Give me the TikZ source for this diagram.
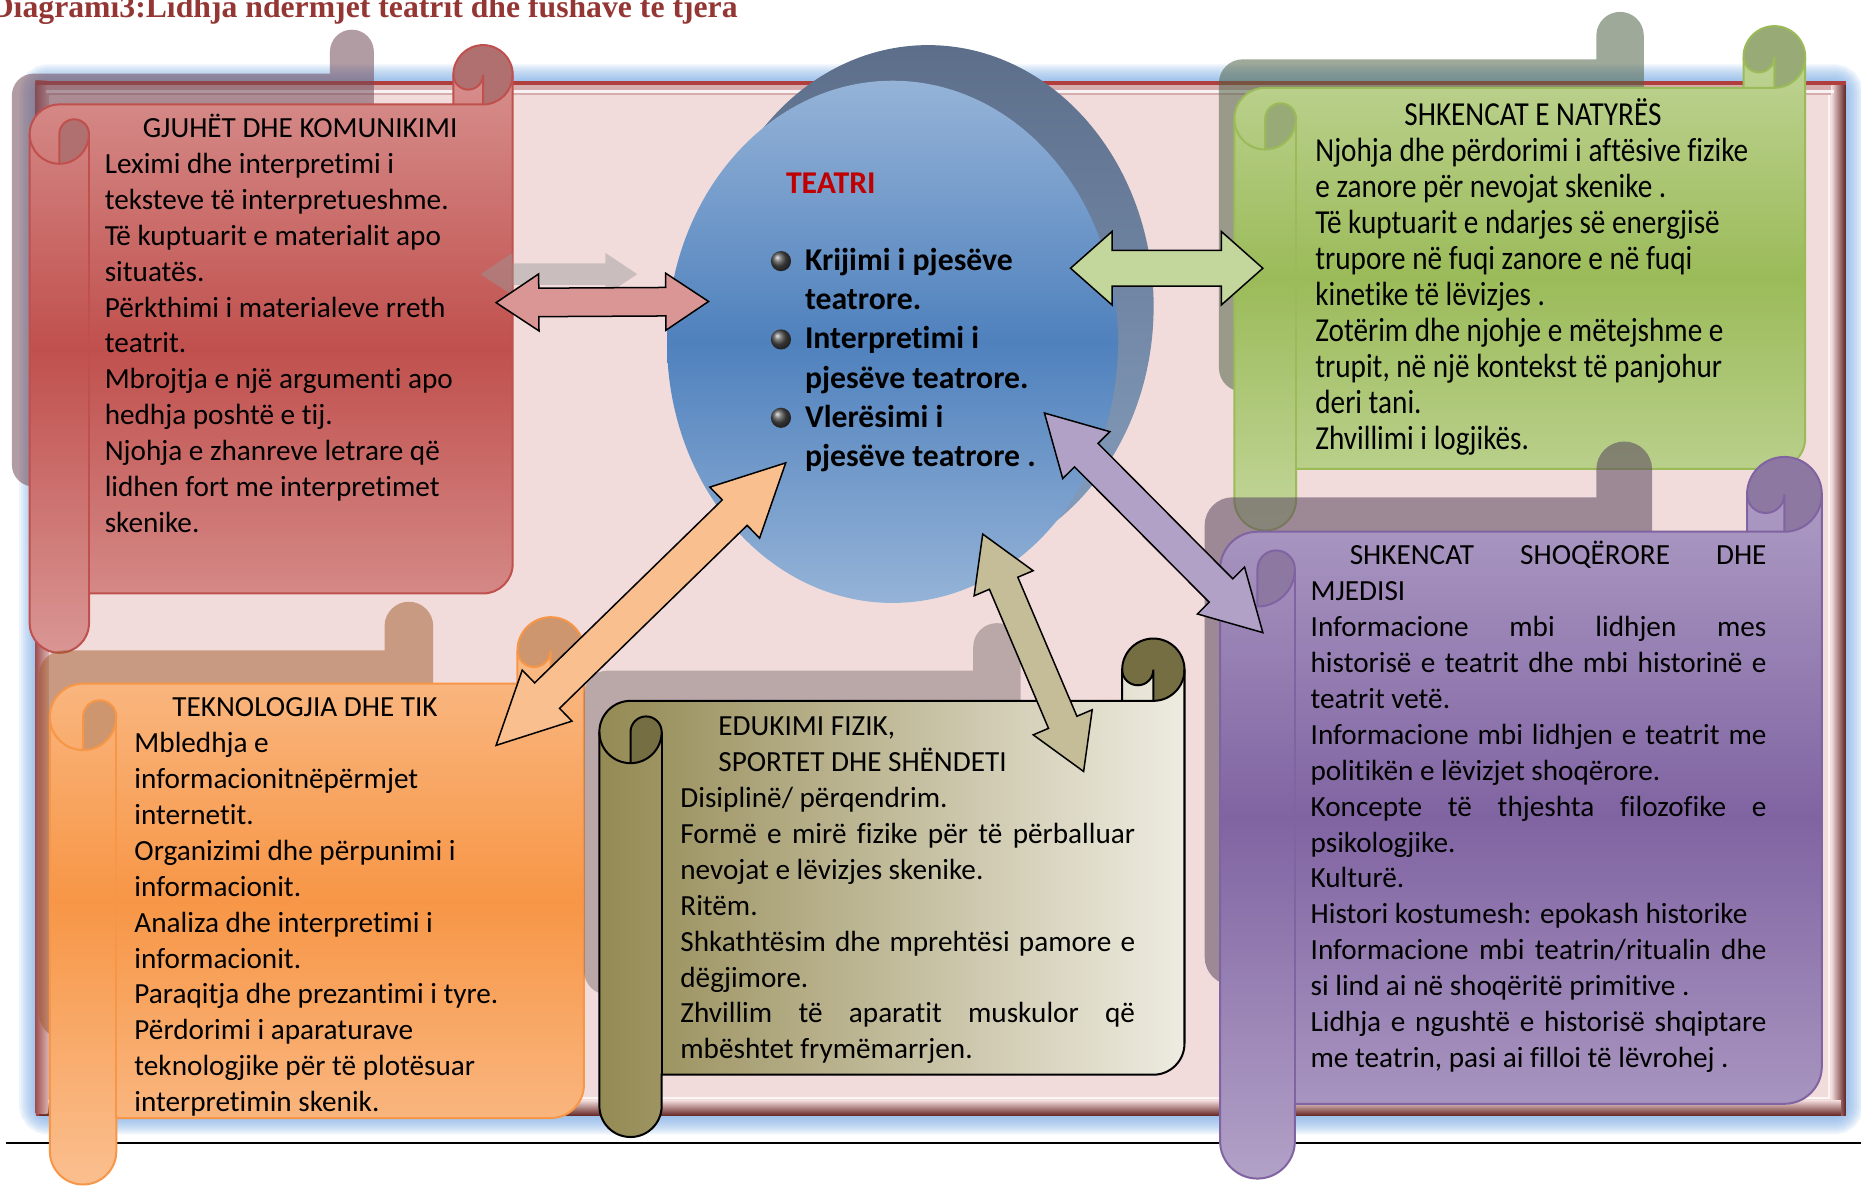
\documentclass[tikz,border=0pt]{standalone}
\usepackage{fontspec}
\usepackage{graphicx}
\setmainfont{Carlito}[Ligatures=NoCommon]
\newfontfamily\titlefont{Liberation Serif}
\usetikzlibrary{calc}
\definecolor{titlered}{RGB}{148,54,52}
\definecolor{framefill}{RGB}{242,220,219}
\definecolor{framered}{RGB}{175,62,60}
\definecolor{framedark}{RGB}{99,37,35}
\definecolor{framebevel}{RGB}{214,172,172}
\definecolor{glowblue}{RGB}{120,170,230}
\definecolor{redL}{RGB}{217,150,148}
\definecolor{redM}{RGB}{192,80,77}
\definecolor{redD}{RGB}{176,112,112}
\definecolor{redS}{RGB}{115,75,90}
\definecolor{grnL}{RGB}{195,214,155}
\definecolor{grnM}{RGB}{155,187,89}
\definecolor{grnD}{RGB}{152,170,118}
\definecolor{grnS}{RGB}{80,100,72}
\definecolor{purL}{RGB}{178,161,199}
\definecolor{purM}{RGB}{128,100,162}
\definecolor{purD}{RGB}{140,120,160}
\definecolor{purS}{RGB}{88,68,95}
\definecolor{orgL}{RGB}{250,191,143}
\definecolor{orgM}{RGB}{247,150,70}
\definecolor{orgD}{RGB}{205,150,110}
\definecolor{orgS}{RGB}{160,90,40}
\definecolor{oliL}{RGB}{238,236,225}
\definecolor{oliM}{RGB}{148,138,84}
\definecolor{oliD}{RGB}{118,110,67}
\definecolor{oliS}{RGB}{120,105,110}
\definecolor{ballL}{RGB}{149,179,215}
\definecolor{ballM}{RGB}{79,129,189}
\definecolor{backT}{RGB}{92,110,138}
\definecolor{backB}{RGB}{135,160,192}
\definecolor{arrRed}{RGB}{217,150,148}
\definecolor{arrGrn}{RGB}{195,214,155}
\definecolor{arrOrg}{RGB}{250,191,143}
\definecolor{arrPur}{RGB}{178,161,199}
\definecolor{arrOli}{RGB}{196,189,151}
\definecolor{teatri}{RGB}{192,0,0}

\newcommand\scrollcalc[5]{%
  \pgfmathsetmacro\scL{#1}\pgfmathsetmacro\scT{#2}%
  \pgfmathsetmacro\scR{#3}\pgfmathsetmacro\scB{#4}%
  \pgfmathsetmacro\scH{#5/2}\pgfmathsetmacro\scQ{#5/4}%
  \pgfmathsetmacro\scxA{#1+#5/2}\pgfmathsetmacro\scxB{#1+#5}%
  \pgfmathsetmacro\scxC{#3-#5}\pgfmathsetmacro\scxD{#3-#5/2}%
  \pgfmathsetmacro\scyA{#2+#5/2}\pgfmathsetmacro\scyB{#2+#5}%
  \pgfmathsetmacro\scyC{#2+1.5*#5}\pgfmathsetmacro\scyD{#2+2*#5}%
  \pgfmathsetmacro\scyF{#4-#5}\pgfmathsetmacro\scyG{#4-#5/2}%
  \pgfmathsetmacro\scyE{#4-1.5*#5}}

\newcommand\scrollshadow[6]{%
  \scrollcalc{#1}{#2}{#3}{#4}{#5}%
  \fill[#6] (\scR,\scyA) -- (\scR,\scyE) arc[start angle=0,end angle=90,radius=\scH]
    -- (\scxB,\scyF) -- (\scxB,\scyG) arc[start angle=0,end angle=180,radius=\scH]
    -- (\scL,\scyC) arc[start angle=180,end angle=270,radius=\scH]
    -- (\scxC,\scyB) -- (\scxC,\scyA) arc[start angle=180,end angle=360,radius=\scH] -- cycle;}

\newcommand\scrollbox[8]{%
  \scrollcalc{#1}{#2}{#3}{#4}{#5}%
  \path[#6] (\scR,\scyA) -- (\scR,\scyE) arc[start angle=0,end angle=90,radius=\scH]
    -- (\scxB,\scyF) -- (\scxB,\scyG) arc[start angle=0,end angle=180,radius=\scH]
    -- (\scL,\scyC) arc[start angle=180,end angle=270,radius=\scH]
    -- (\scxC,\scyB) -- (\scxC,\scyA) arc[start angle=180,end angle=360,radius=\scH] -- cycle;
  \fill[#7] (\scxA,\scyD) arc[start angle=90,end angle=0,radius=\scH]
    arc[start angle=0,end angle=-180,radius=\scQ] -- cycle;
  \fill[#7] (\scxD,\scyB) arc[start angle=90,end angle=-180,radius=\scH]
    arc[start angle=180,end angle=0,radius=\scQ] -- cycle;
  \draw[#8] (\scR,\scyA) -- (\scR,\scyE) arc[start angle=0,end angle=90,radius=\scH]
    -- (\scxB,\scyF) -- (\scxB,\scyG) arc[start angle=0,end angle=180,radius=\scH]
    -- (\scL,\scyC) arc[start angle=180,end angle=270,radius=\scH]
    -- (\scxC,\scyB) -- (\scxC,\scyA) arc[start angle=180,end angle=360,radius=\scH] -- cycle;
  \draw[#8] (\scxC,\scyB) -- (\scxD,\scyB) arc[start angle=90,end angle=0,radius=\scH];
  \draw[#8] (\scxD,\scyB) -- (\scxD,\scyA) arc[start angle=0,end angle=180,radius=\scQ];
  \draw[#8] (\scxA,\scyD) -- (\scxA,\scyC) arc[start angle=180,end angle=360,radius=\scQ]
    arc[start angle=0,end angle=180,radius=\scH];
  \draw[#8] (\scxB,\scyC) -- (\scxB,\scyF);}

% block double arrow: #1 style, #2 A, #3 B, #4 shaft half width, #5 head half width, #6 head length
\newcommand\blockarrow[6]{%
  \path ($(#2)!#6!(#3)$) coordinate (ba1) ($(#3)!#6!(#2)$) coordinate (ba2);
  \draw[#1] (#2) -- ($(ba1)!#5!90:(#3)$) -- ($(ba1)!#4!90:(#3)$)
    -- ($(ba2)!#4!-90:(#2)$) -- ($(ba2)!#5!-90:(#2)$) -- (#3)
    -- ($(ba2)!#5!90:(#2)$) -- ($(ba2)!#4!90:(#2)$)
    -- ($(ba1)!#4!-90:(#3)$) -- ($(ba1)!#5!-90:(#3)$) -- cycle;}

\newcommand\jline[1]{\makebox[\linewidth][s]{#1}}

\begin{document}
\begin{tikzpicture}[x=0.025cm,y=-0.025cm,
  txt/.style={inner sep=0pt,anchor=base west,font=\fontsize{17.5pt}{21.5pt}\selectfont},
  scrline/.style={line width=1.2pt},
  arrline/.style={draw=black,line width=0.9pt,line join=miter}]
\useasboundingbox (0,0) rectangle (1568,1000);
\fill[white] (0,0) rectangle (1568,1000);

% glow round the frame
\foreach \k in {1,...,9}
  \draw[glowblue,opacity=0.12,line width=\k*2.5pt,rounded corners=6pt] (32,70) rectangle (1554,940);

% frame
\fill[framered] (30,68) rectangle (1555,940);
\fill[framebevel] (33,72) rectangle (1551,936);
\shade[left color=framefill,right color=framedark] (1543,72) rectangle (1555,940);
\shade[top color=framefill,bottom color=framedark] (33,927) rectangle (1551,940);
\shade[left color=framered!70!gray,right color=framebevel] (30,68) rectangle (40,938);
\fill[framered] (30,68) rectangle (1555,72);
\fill[framefill] (41,80) rectangle (1543,927);
\draw[white,line width=1.4pt,opacity=0.85] (39,77) -- (1545,77);
\draw[white!70!framefill,line width=1pt] (1541,80) -- (1541,925) -- (41,925);

% page rule
\draw[black,line width=1.6pt] (5,963) -- (1568,963);

% central disk
\shade[top color=backT,bottom color=backB] (782,258) ellipse[x radius=190,y radius=220];
\shade[top color=ballL,bottom color=ballL,middle color=ballM] (752,288) ellipse[x radius=190,y radius=220];

% scrolls with their shadows
\scrollshadow{10}{25}{315}{410}{37}{redS,fill opacity=0.55}
\scrollbox{25}{38}{432}{550}{50}{top color=redL,bottom color=redL,middle color=redM}{redD}{redM,scrline}

\scrollshadow{1027}{10}{1385}{330}{40}{grnS,fill opacity=0.55}
\scrollbox{1040}{22}{1521}{447}{52}{top color=grnL,bottom color=grnL,middle color=grnM}{grnD}{grnM,scrline}

\scrollshadow{1015}{372}{1392}{830}{47}{purS,fill opacity=0.55}
\scrollbox{1028}{385}{1535}{993}{63}{top color=purL,bottom color=purL,middle color=purM}{purD}{purM,scrline}

\scrollshadow{33}{507}{365}{875}{41}{orgS,fill opacity=0.5}
\scrollbox{42}{520}{492}{998}{56}{top color=orgL,bottom color=orgL,middle color=orgM}{orgD}{orgM,scrline}

\scrollshadow{492}{525}{860}{838}{40}{oliS,fill opacity=0.45}
\scrollbox{505}{538}{998}{958}{52.5}{left color=oliM,right color=oliL}{oliD}{black,scrline}

% arrows
\coordinate (shA) at (405,231); \coordinate (shB) at (537,231);
\coordinate (rA) at (418,255);  \coordinate (rB) at (597,254);
\coordinate (gA) at (902,226);  \coordinate (gB) at (1064,226);
\coordinate (oA) at (418,628);  \coordinate (oB) at (662,390);
\coordinate (pA) at (880,348);  \coordinate (pB) at (1064,533);
\coordinate (vA) at (828,450);  \coordinate (vB) at (913,650);
\blockarrow{fill=black!40,fill opacity=0.45,draw=none}{shA}{shB}{0.225cm}{0.45cm}{0.675cm}
\blockarrow{arrline,fill=arrRed}{rA}{rB}{0.3cm}{0.6cm}{0.9cm}
\blockarrow{arrline,fill=arrGrn}{gA}{gB}{0.375cm}{0.775cm}{0.875cm}
\blockarrow{arrline,fill=arrOrg}{oA}{oB}{0.375cm}{0.75cm}{1.5cm}
\blockarrow{arrline,fill=arrPur}{pA}{pB}{0.35cm}{0.7cm}{1.25cm}
\blockarrow{arrline,fill=arrOli}{vA}{vB}{0.325cm}{0.675cm}{1.125cm}

% title
\node[inner sep=0pt,anchor=base west,text=titlered,font=\titlefont\bfseries\fontsize{19pt}{22pt}\selectfont] (title) at (-8,15) {Diagrami3:Lidhja ndërmjet teatrit dhe fushave të tjera};

% centre text
\node[inner sep=0pt,anchor=base west,text=teatri,font=\bfseries\fontsize{19pt}{23.5pt}\selectfont] (teatri) at (662,163) {TEATRI};
\node[inner sep=0pt,anchor=base west,font=\bfseries\fontsize{19pt}{23.47pt}\selectfont] (items) at (678,228)
  {\parbox[t]{6cm}{Krijimi i pjesëve\\teatrore.\\Interpretimi i\\pjesëve teatrore.\\Vlerësimi i\\pjesëve teatrore .}};
\foreach \yy in {220,286,352} \shade[ball color=black!70] (658,\yy) circle (8.5);

% scroll texts
\node[txt] (redtxt) at (88,116) {\parbox[t]{9cm}{\hspace*{0.8cm}GJUHËT DHE KOMUNIKIMI\\
Leximi dhe interpretimi i\\
teksteve të interpretueshme.\\
Të kuptuarit e materialit apo\\
situatës.\\
Përkthimi i materialeve rreth\\
teatrit.\\
Mbrojtja e një argumenti apo\\
hedhja poshtë e tij.\\
Njohja e zhanreve letrare që\\
lidhen fort me interpretimet\\
skenike.}};

\node[txt,font=\fontsize{17.5pt}{18.74pt}\selectfont] (grntxt) at (1108,106) {\scalebox{1}[1.15]{\parbox[t]{9.5cm}{\hspace*{1.875cm}SHKENCAT E NATYRËS\\
Njohja dhe përdorimi i aftësive fizike\\
e zanore për nevojat skenike .\\
Të kuptuarit e ndarjes së energjisë\\
trupore në fuqi zanore e në fuqi\\
kinetike të lëvizjes .\\
Zotërim dhe njohje e mëtejshme e\\
trupit, në një kontekst të panjohur\\
deri tani.\\
Zhvillimi i logjikës.}}};

\node[txt] (purtxt) at (1104,476) {\parbox[t]{9.6cm}{\hspace*{0.825cm}\makebox[8.775cm][s]{SHKENCAT SHOQËRORE DHE}\\
MJEDISI\\
\jline{Informacione mbi lidhjen mes}\\
\jline{historisë e teatrit dhe mbi historinë e}\\
teatrit vetë.\\
\jline{Informacione mbi lidhjen e teatrit me}\\
politikën e lëvizjet shoqërore.\\
\jline{Koncepte të thjeshta filozofike e}\\
psikologjike.\\
Kulturë.\\
Histori kostumesh: epokash historike\\
\jline{Informacione mbi teatrin/ritualin dhe}\\
si lind ai në shoqëritë primitive .\\
\jline{Lidhja e ngushtë e historisë shqiptare}\\
me teatrin, pasi ai filloi të lëvrohej .}};

\node[txt] (orgtxt) at (113,604) {\parbox[t]{9cm}{\hspace*{0.8cm}TEKNOLOGJIA DHE TIK\\
Mbledhja e\\
informacionitnëpërmjet\\
internetit.\\
Organizimi dhe përpunimi i\\
informacionit.\\
Analiza dhe interpretimi i\\
informacionit.\\
Paraqitja dhe prezantimi i tyre.\\
Përdorimi i aparaturave\\
teknologjike për të plotësuar\\
interpretimin skenik.}};

\node[txt] (olitxt) at (573,620) {\parbox[t]{9.575cm}{\hspace*{0.8cm}EDUKIMI FIZIK,\\
\hspace*{0.8cm}SPORTET DHE SHËNDETI\\
Disiplinë/ përqendrim.\\
\jline{Formë e mirë fizike për të përballuar}\\
nevojat e lëvizjes skenike.\\
Ritëm.\\
\jline{Shkathtësim dhe mprehtësi pamore e}\\
dëgjimore.\\
\jline{Zhvillim të aparatit muskulor që}\\
mbështet frymëmarrjen.}};
\end{tikzpicture}
\end{document}
